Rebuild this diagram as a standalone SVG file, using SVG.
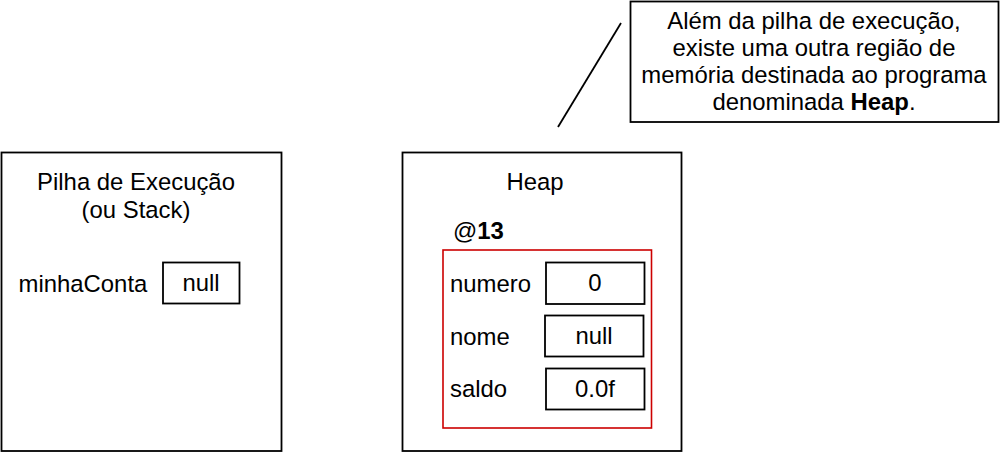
<svg xmlns="http://www.w3.org/2000/svg" width="1000" height="452" viewBox="0 0 1000 452">
<style>
text{font-family:"Liberation Sans",Arial,sans-serif;font-size:23.9px;fill:#000}
.c{text-anchor:middle}
.box{fill:#fff;stroke:#000;stroke-width:1.8}
.red{fill:none;stroke:#cc0000;stroke-width:1.6}
.line{stroke:#000;stroke-width:1.8;fill:none}
</style>
<rect width="1000" height="452" fill="#fff"/>
<g id="connectors">
<line class="line" x1="621" y1="23" x2="558" y2="127"/>
</g>
<g id="callout">
<rect class="box" x="630.5" y="1.5" width="368" height="120.5"/>
<text class="c" x="814" y="29">Além da pilha de execução,</text>
<text class="c" x="814" y="56">existe uma outra região de</text>
<text class="c" x="814" y="83">memória destinada ao programa</text>
<text class="c" x="814" y="110">denominada <tspan font-weight="bold">Heap</tspan>.</text>
</g>
<g id="stack">
<rect class="box" x="1.5" y="152.5" width="280" height="298.5"/>
<text class="c" x="136" y="190">Pilha de Execução</text>
<text class="c" x="136" y="218">(ou Stack)</text>
<text x="18.5" y="291.5">minhaConta</text>
<g id="minhaConta-value">
<rect class="box" x="163" y="262.5" width="76.5" height="41"/>
<text class="c" x="201" y="291">null</text>
</g>
</g>
<g id="heap">
<rect class="box" x="402.5" y="152.5" width="279" height="298.5"/>
<text class="c" x="535" y="190">Heap</text>
<text x="453" y="238.5">@<tspan font-weight="bold">13</tspan></text>
<g id="object13">
<rect class="red" x="443" y="250" width="208.5" height="178"/>
<text x="450" y="291.5">numero</text>
<rect class="box" x="546" y="262.5" width="98.5" height="41.5"/>
<text class="c" x="595" y="291">0</text>
<text x="450" y="344.5">nome</text>
<rect class="box" x="545" y="315.5" width="98.5" height="41"/>
<text class="c" x="594" y="344">null</text>
<text x="450" y="397">saldo</text>
<rect class="box" x="546" y="368.5" width="98.5" height="41"/>
<text class="c" x="595" y="397">0.0f</text>
</g>
</g>
</svg>
